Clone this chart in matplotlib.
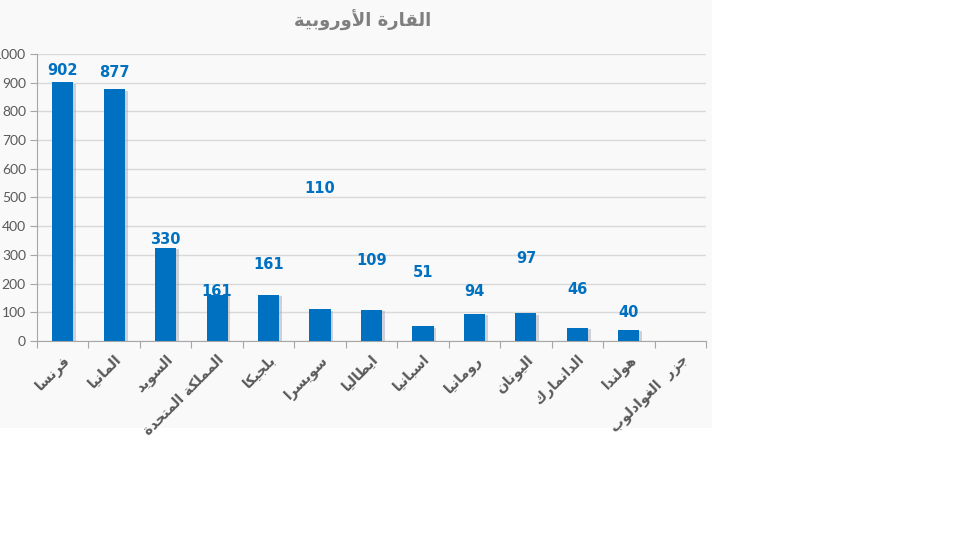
import matplotlib
matplotlib.use("Agg")
import matplotlib.pyplot as plt
from matplotlib.patches import Rectangle
import matplotlib.patheffects as pe

# ---- data ----
countries = ["فرنسا", "المانيا", "السويد", "المملكة المتحدة", "بلجيكا", "سويسرا",
             "ايطاليا", "اسبانيا", "رومانيا", "اليونان", "الدانمارك", "هولندا",
             "جزر  الغوادلوب"]
bar_values = [902, 877, 325, 161, 161, 110, 109, 51, 94, 97, 46, 40, 0]
label_texts = ["902", "877", "330", "161", "161", "110", "109", "51", "94", "97", "46", "40", ""]
title_text = "القارة الأوروبية"
yticks = [0, 100, 200, 300, 400, 500, 600, 700, 800, 900, 1000]

# layout: heights (data units) where Excel placed the data labels
label_heights = [944, 936, 352, 172, 265, 530, 280, 238, 172, 286, 178, 99, 0]

# ---- simple Arabic shaping (presentation forms) ----
DUAL = {'ب': 0xFE8F, 'ت': 0xFE95, 'ج': 0xFE9D, 'ح': 0xFEA1, 'س': 0xFEB1,
        'ط': 0xFEC1, 'غ': 0xFECD, 'ف': 0xFED1, 'ق': 0xFED5, 'ك': 0xFED9,
        'ل': 0xFEDD, 'م': 0xFEE1, 'ن': 0xFEE5, 'ه': 0xFEE9, 'ي': 0xFEF1}
RIGHT = {'ا': 0xFE8D, 'أ': 0xFE83, 'ة': 0xFE93, 'د': 0xFEA9, 'ر': 0xFEAD,
         'ز': 0xFEAF, 'و': 0xFEED}
LAMALEF = {'ا': 0xFEFB, 'أ': 0xFEF7}


def shape(text):
    chars = []
    i = 0
    while i < len(text):
        c = text[i]
        if c == 'ل' and i + 1 < len(text) and text[i + 1] in LAMALEF:
            chars.append(('LA', text[i + 1]))
            i += 2
        else:
            chars.append(('C', c))
            i += 1

    def joins_left(tok):
        kind, c = tok
        return kind == 'C' and c in DUAL

    def joins_right(tok):
        kind, c = tok
        return kind == 'LA' or c in DUAL or c in RIGHT

    out = []
    for k, tok in enumerate(chars):
        kind, c = tok
        prev_j = k > 0 and joins_left(chars[k - 1]) and joins_right(tok)
        next_j = (k + 1 < len(chars) and joins_left(tok)
                  and joins_right(chars[k + 1]))
        if kind == 'LA':
            out.append(chr(LAMALEF[c] + (1 if prev_j else 0)))
        elif c in DUAL:
            b = DUAL[c]
            if prev_j and next_j:
                out.append(chr(b + 3))
            elif next_j:
                out.append(chr(b + 2))
            elif prev_j:
                out.append(chr(b + 1))
            else:
                out.append(chr(b))
        elif c in RIGHT:
            b = RIGHT[c]
            out.append(chr(b + 1) if prev_j else chr(b))
        else:
            out.append(c)
    return ''.join(reversed(out))


BLUE = "#0070C0"
GRAY = "#595959"
GRID = "#D9D9D9"

fig = plt.figure(figsize=(9.6, 5.4), dpi=100, facecolor="white")
fig.patches.append(Rectangle((0, 1 - 428 / 540), 712 / 960, 428 / 540,
                             transform=fig.transFigure, facecolor="#F9F9F9",
                             edgecolor="none", zorder=-10))

ax = fig.add_axes([37 / 960, 1 - 341 / 540, 669 / 960, 287 / 540])
ax.set_facecolor("none")

x = list(range(len(countries)))
bars = ax.bar(x, bar_values, width=0.41, color=BLUE, zorder=3)
for b in bars:
    b.set_path_effects([pe.SimplePatchShadow(offset=(2, -1), shadow_rgbFace="#9aa4b0",
                                             alpha=0.45), pe.Normal()])

for xi, txt, hy in zip(x, label_texts, label_heights):
    if txt:
        ax.text(xi, hy, txt, ha="center", va="center", color=BLUE,
                fontsize=10.5, fontweight="bold", family="DejaVu Sans", zorder=5)

ax.set_xlim(-0.5, len(countries) - 0.5)
ax.set_ylim(0, 1000)
ax.set_yticks(yticks)
ax.set_yticklabels([str(v) for v in yticks], color=GRAY, fontsize=10, family="Lato")
ax.yaxis.grid(True, color=GRID, linewidth=1, zorder=0)
ax.set_axisbelow(True)

ax.set_xticks([i - 0.5 for i in range(len(countries) + 1)])
ax.set_xticklabels([])
ax.set_xticks(x, minor=True)
ax.set_xticklabels([shape(c) for c in countries], minor=True, rotation=45,
                   ha="right", rotation_mode="anchor", color=GRAY, fontsize=10,
                   fontweight="bold", family="DejaVu Sans")
ax.tick_params(axis="x", which="major", length=5, color="#A6A6A6", direction="out")
ax.tick_params(axis="x", which="minor", length=0, pad=8)
ax.tick_params(axis="y", length=5, color="#A6A6A6", pad=3)

for s in ["top", "right"]:
    ax.spines[s].set_visible(False)
ax.spines["left"].set_color("#A6A6A6")
ax.spines["bottom"].set_color("#A6A6A6")

fig.text(363 / 960, 1 - 20 / 540, shape(title_text), ha="center", va="center",
         color="#7F7F7F", fontsize=13, fontweight="bold", family="DejaVu Sans")

fig.savefig("out.png", dpi=100, facecolor="white")
